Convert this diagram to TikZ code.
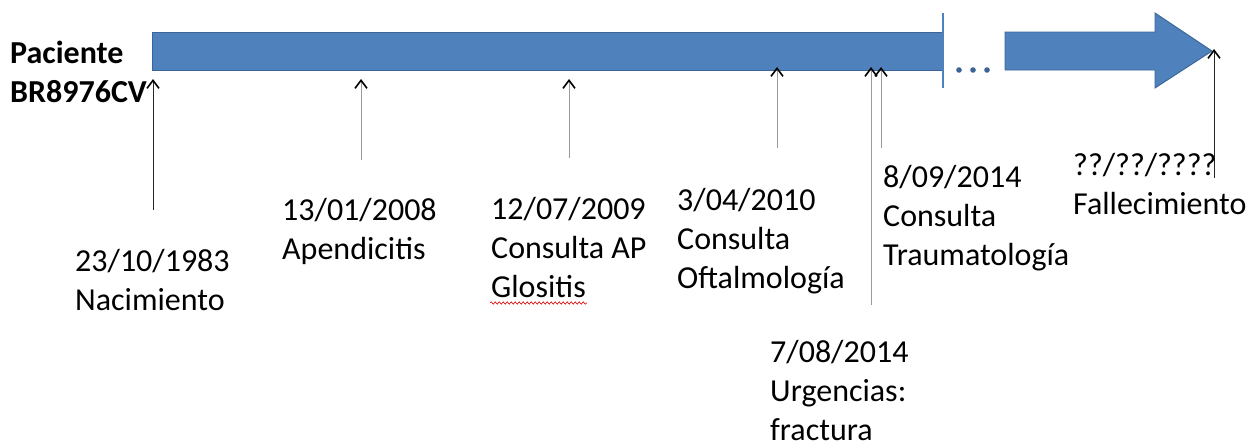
\documentclass[tikz,border=0pt]{standalone}
\usepackage{fontspec}
\setmainfont{Carlito}
\usetikzlibrary{arrows.meta,decorations.pathmorphing}
\definecolor{barfill}{HTML}{4F81BD}
\definecolor{barline}{HTML}{3A6596}
\definecolor{tickgray}{HTML}{9A9A9A}
\newcommand{\lines}[1]{\begin{tabular}[t]{@{}l@{}}#1\end{tabular}}
\begin{document}
\begin{tikzpicture}[x=1pt,y=-1pt,
  lbl/.style={anchor=base west, inner sep=0pt, font=\fontsize{32}{39}\selectfont},
  bar/.style={fill=barfill, draw=barline, line width=0.9pt, line join=miter},
  tick/.style={draw=tickgray, line width=0.9pt,
    -{Straight Barb[length=8pt,width=12pt,line width=1.6pt,color=black]}},
  darktick/.style={tick, draw=black!85}]
\useasboundingbox (0,0) rectangle (1258,445);

% time bar, interrupted, then the arrow towards the end
\draw[bar] (152,32) rectangle (943,70);
\draw[barfill, line width=2.5pt] (943,13) -- (943,88);
\foreach \x in {959,973,987} \fill[barline] (\x,70) circle (2.8pt);
\draw[bar] (1005,32) -- (1155,32) -- (1155,13) -- (1212,51) -- (1155,88)
  -- (1155,70) -- (1005,70) -- cycle;

% patient
\node[lbl, font=\fontsize{32}{39}\selectfont\bfseries] (pac) at (10,63)
  {\lines{Paciente\\BR8976CV}};

% event markers
\coordinate (t1a) at (153,79);  \coordinate (t1b) at (153,210);
\coordinate (t2a) at (361,79);  \coordinate (t2b) at (361,160);
\coordinate (t3a) at (569,79);  \coordinate (t3b) at (569,158);
\coordinate (t4a) at (777,67);  \coordinate (t4b) at (777,148);
\coordinate (t5a) at (871,67);  \coordinate (t5b) at (871,305);
\coordinate (t6a) at (881,67);  \coordinate (t6b) at (881,148);
\coordinate (t7a) at (1214,49); \coordinate (t7b) at (1214,178);
\draw[darktick] (t1b) -- (t1a);
\draw[tick] (t2b) -- (t2a);
\draw[tick] (t3b) -- (t3a);
\draw[tick] (t4b) -- (t4a);
\draw[tick] (t5b) -- (t5a);
\draw[tick] (t6b) -- (t6a);
\draw[darktick] (t7b) -- (t7a);

% event labels
\node[lbl] (e1) at (75,271)   {\lines{23/10/1983\\Nacimiento}};
\node[lbl] (e2) at (282,220)  {\lines{13/01/2008\\Apendicitis}};
\node[lbl] (e3) at (491,219)  {\lines{12/07/2009\\Consulta AP\\Glositis}};
\node[lbl] (e4) at (677,210)  {\lines{3/04/2010\\Consulta\\Oftalmología}};
\node[lbl] (e5) at (770,362)  {\lines{7/08/2014\\Urgencias:\\fractura}};
\node[lbl] (e6) at (883,187)  {\lines{8/09/2014\\Consulta\\Traumatología}};
\node[lbl] (e7) at (1073,175) {\lines{??/??/????\\Fallecimiento}};

% spelling mark under "Glositis"
\draw[red!85!black, line width=0.6pt,
  decorate, decoration={snake, amplitude=1.2pt, segment length=4pt}]
  (490,303) -- (587,303);
\end{tikzpicture}
\end{document}
